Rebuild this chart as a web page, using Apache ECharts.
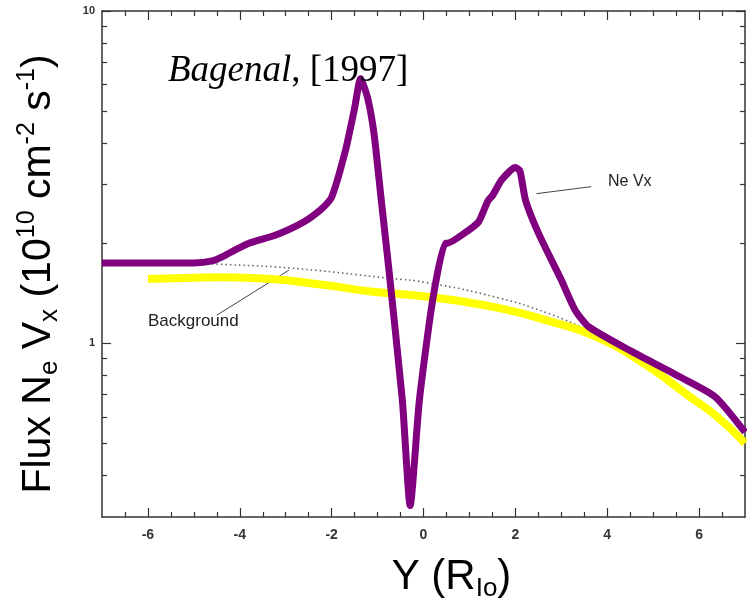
<!DOCTYPE html>
<html><head><meta charset="utf-8">
<script src="https://cdn.jsdelivr.net/npm/echarts@6/dist/echarts.min.js"></script>
<style>html,body{margin:0;padding:0;background:#fff}#c{width:747px;height:604px}</style>
</head><body><div id="c"></div>
<script>
// Ne Vx flux (purple)
const neVxX = [-7.0,-5.0,-4.6,-4.35,-4.1,-3.8,-3.2,-2.6,-2.2,-2.0,-1.7,-1.5,-1.37,-1.22,-1.08,-0.92,-0.76,-0.46,-0.29,-0.09,0.2,0.47,0.52,0.9,1.2,1.4,1.5,1.7,2.0,2.1,2.22,2.5,3.0,3.3,3.6,4.5,5.6,6.35,7.0];
const neVxY = [1.745,1.745,1.77,1.83,1.91,2.0,2.12,2.32,2.55,2.75,3.8,5.1,6.25,5.5,4.3,2.7,1.70,0.673,0.325,0.673,1.35,2.0,2.0,2.15,2.32,2.68,2.78,3.1,3.38,3.3,2.7,2.15,1.55,1.26,1.12,0.95,0.79,0.69,0.54];
// Background model (yellow)
const bgX = [-6.0,-5.0,-4.4,-3.3,-2.2,-1.1,0.1,1.6,2.7,3.8,4.9,5.8,6.4,7.0];
const bgY = [1.56,1.575,1.58,1.56,1.50,1.43,1.38,1.28,1.17,1.04,0.85,0.69,0.60,0.50];
// Original dotted background (scan)
const dotX = [-5.0,-4.46,-2.93,-0.76,0.1,1.63,2.72,3.48];
const dotY = [1.745,1.73,1.685,1.57,1.52,1.37,1.23,1.11];
// Annotation pointers
const neVxPtrX = [2.46,3.65]; const neVxPtrY = [2.82,2.96];
const bgPtrX = [-4.5,-2.93]; const bgPtrY = [1.215,1.66];
// Ticks
const xMajor = [-6,-4,-2,0,2,4,6];
const xMinor = [-6.5,-5.5,-5,-4.5,-3.5,-3,-2.5,-1.5,-1,-0.5,0.5,1,1.5,2.5,3,3.5,4.5,5,5.5,6.5];
const yMajor = [1,10];
const yMinor = [0.4,0.5,0.6,0.7,0.8,0.9,2,3,4,5,6,7,8,9];

const zip = (a,b)=>a.map((v,i)=>[v,b[i]]);
const frame = {color:'#333', width:1.5};
const F = 'Liberation Sans, Arial, sans-serif';
const S = 'Liberation Serif, Times New Roman, serif';

function xAx(grid, pos, ticks, len, showLine, extra){
  return Object.assign({type:'value', gridIndex:grid, position:pos, min:-7, max:7,
    axisLine:{show:showLine, onZero:false, lineStyle:frame},
    axisTick:{show:true, inside:true, length:len, customValues:ticks, lineStyle:{color:'#333',width:1.2}},
    axisLabel:{show:false}, splitLine:{show:false}}, extra||{});
}
function yAx(grid, pos, ticks, len, showLine, extra){
  return Object.assign({type:'log', logBase:10, gridIndex:grid, position:pos, min:0.3, max:10,
    axisLine:{show:showLine, onZero:false, lineStyle:frame},
    axisTick:{show:true, inside:true, length:len, customValues:ticks, lineStyle:{color:'#333',width:1.2}},
    axisLabel:{show:false}, splitLine:{show:false}}, extra||{});
}
const g = {left:102, right:2, top:11, bottom:87, outerBoundsMode:'none', containLabel:false};

const option = {
  backgroundColor:'#fff',
  animation:false,
  title:{text:'{i|Bagenal}{n|, [1997]}', left:163, top:48,
    textStyle:{rich:{i:{fontFamily:S, fontStyle:'italic', fontWeight:'normal', fontSize:37, color:'#000'},
                     n:{fontFamily:S, fontWeight:'normal', fontSize:37, color:'#000'}}}},
  grid:[Object.assign({},g), Object.assign({},g)],
  xAxis:[
    xAx(0,'bottom',xMajor,9,true,{
      axisLabel:{show:true, customValues:xMajor, margin:11, fontSize:14, fontWeight:'bold', color:'#333', fontFamily:F},
      name:'{m|Y (R}{sub|Io}{m|)}', nameLocation:'middle', nameGap:35,
      nameTextStyle:{padding:[0,0,0,56], rich:{
        m:{fontSize:42, fontFamily:F, color:'#000', lineHeight:50},
        sub:{fontSize:26, fontFamily:F, color:'#000', lineHeight:16, verticalAlign:'bottom'}}}
    }),
    xAx(0,'top',xMajor,9,true),
    xAx(1,'bottom',xMinor,5,false),
    xAx(1,'top',xMinor,5,false)
  ],
  yAxis:[
    yAx(0,'left',yMajor,9,true,{
      axisLabel:{show:true, customValues:yMajor, margin:7, fontSize:11, fontWeight:'bold', color:'#333', fontFamily:F},
      name:'{m|Flux N}{sub|e}{m| V}{sub|x}{m| (10}{sup|10}{m| cm}{sup|-2}{m| s}{sup|-1}{m|)}',
      nameLocation:'middle', nameGap:39,
      nameTextStyle:{padding:[0,20,0,0], rich:{
        m:{fontSize:41, fontFamily:F, color:'#000', lineHeight:48},
        sub:{fontSize:26, fontFamily:F, color:'#000', lineHeight:16, verticalAlign:'bottom'},
        sup:{fontSize:25, fontFamily:F, color:'#000', lineHeight:36, verticalAlign:'top'}}}
    }),
    yAx(0,'right',yMajor,9,true),
    yAx(1,'left',yMinor,5,false),
    yAx(1,'right',yMinor,5,false)
  ],
  graphic:[
    {type:'text', left:148, top:313, style:{text:'Background', font:'17px '+F, fill:'#222'}},
    {type:'text', left:608, top:174, style:{text:'Ne Vx', font:'16px '+F, fill:'#222'}}
  ],
  series:[
    {type:'line', data:zip(dotX,dotY), xAxisIndex:0, yAxisIndex:0, symbol:'none', smooth:true,
      lineStyle:{color:'#666', width:1.6, type:[1.5,3]}, z:1},
    {type:'line', data:zip(neVxPtrX,neVxPtrY), xAxisIndex:0, yAxisIndex:0, symbol:'none',
      lineStyle:{color:'#444', width:1}, z:1},
    {type:'line', data:zip(bgPtrX,bgPtrY), xAxisIndex:0, yAxisIndex:0, symbol:'none',
      lineStyle:{color:'#444', width:1}, z:1},
    {type:'line', name:'Background', data:zip(bgX,bgY), xAxisIndex:0, yAxisIndex:0, symbol:'none', smooth:true,
      lineStyle:{color:'#ffff00', width:8}, z:3},
    {type:'line', name:'Ne Vx', data:zip(neVxX,neVxY), xAxisIndex:0, yAxisIndex:0, symbol:'none', smooth:0.2,
      lineStyle:{color:'#800080', width:7, join:'round'}, z:4}
  ]
};
echarts.init(document.getElementById('c')).setOption(option);
</script>
</body></html>
